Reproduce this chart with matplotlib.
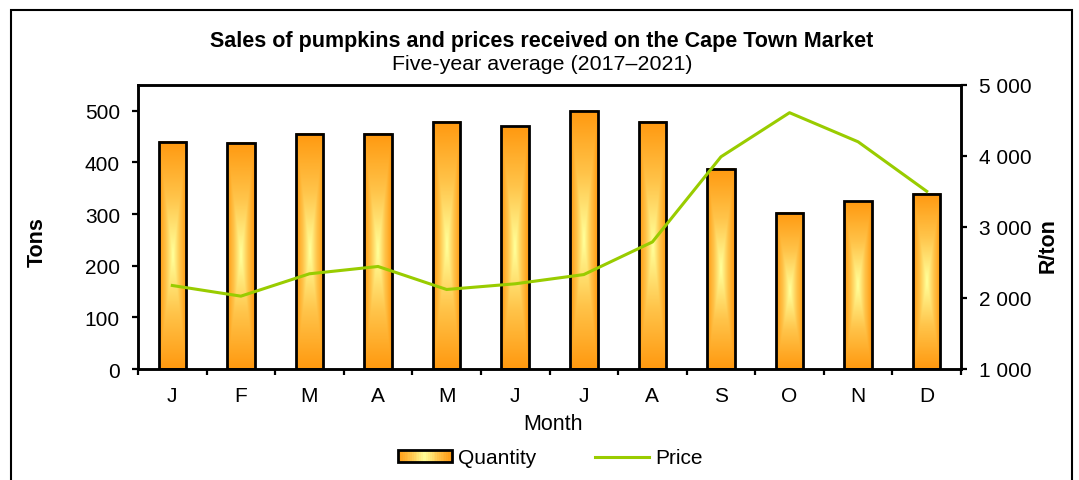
import numpy as np
import matplotlib
matplotlib.use('Agg')
import matplotlib.pyplot as plt
from matplotlib.colors import LinearSegmentedColormap
from matplotlib.patches import Rectangle
from matplotlib.legend_handler import HandlerBase
from matplotlib.lines import Line2D
from matplotlib.ticker import FuncFormatter

# data
months = ['J', 'F', 'M', 'A', 'M', 'J', 'J', 'A', 'S', 'O', 'N', 'D']
quantity = [440, 438, 456, 456, 479, 470, 500, 479, 388, 303, 325, 339]   # tons
price = [2176, 2026, 2341, 2444, 2120, 2200, 2330, 2789, 3989, 4610, 4200, 3503]  # R/ton

plt.rcParams['font.family'] = ['Liberation Sans', 'DejaVu Sans']
plt.rcParams['font.size'] = 15

cmap = LinearSegmentedColormap.from_list('pump', ['#FFFF99', '#FFC44A', '#FF9910'])
green = '#99CC00'

# rectangular "from centre" gradient for the bars
u = np.linspace(-1, 1, 60)
v = np.linspace(-1, 1, 200)
U, V = np.meshgrid(u, v)
T = np.maximum(np.abs(U), np.abs(V))


class GradHandler(HandlerBase):
    def create_artists(self, legend, orig_handle, xdescent, ydescent,
                       width, height, fontsize, trans):
        arts = []
        n = 30
        for i in range(n):
            t = abs((i + 0.5) / n * 2 - 1)
            arts.append(Rectangle((-xdescent + i * width / n, -ydescent), width / n, height,
                                  facecolor=cmap(t), edgecolor='none', transform=trans))
        arts.append(Rectangle((-xdescent, -ydescent), width, height, facecolor='none',
                              edgecolor='black', lw=2, transform=trans))
        return arts


fig = plt.figure(figsize=(10.79, 4.81), dpi=100)
ax = fig.add_axes([138 / 1079, 1 - 370 / 481, 823 / 1079, 284 / 481])

x = np.arange(len(months))
bars = ax.bar(x, quantity, width=0.4, facecolor='none', edgecolor='black',
              linewidth=2, zorder=3)
for b in bars:
    x0, w, h = b.get_x(), b.get_width(), b.get_height()
    ax.imshow(T, cmap=cmap, extent=(x0, x0 + w, 0, h), aspect='auto',
              origin='lower', zorder=2, interpolation='bilinear')

ax.set_xlim(-0.5, len(months) - 0.5)
ax.set_ylim(0, 550)
ax.set_yticks(range(0, 501, 100))
ax.set_xticks(x)
ax.set_xticklabels(months)
ax.set_xticks(np.arange(-0.5, len(months)), minor=True)
ax.tick_params(axis='x', which='major', length=0, pad=12)
ax.tick_params(axis='x', which='minor', length=4, width=1.6, direction='out')
ax.tick_params(axis='y', length=4, width=1.6, pad=9)

ax2 = ax.twinx()
ax2.plot(x, price, color=green, lw=2.2)
ax2.set_ylim(1000, 5000)
ax2.set_yticks(range(1000, 5001, 1000))
ax2.yaxis.set_major_formatter(FuncFormatter(lambda val, pos: f'{int(val):,}'.replace(',', ' ')))
ax2.tick_params(axis='y', length=4, width=1.6, pad=9)

for a in (ax, ax2):
    for s in a.spines.values():
        s.set_linewidth(1.8)

fig.text(542 / 1079, 1 - 42 / 481, 'Sales of pumpkins and prices received on the Cape Town Market',
         ha='center', va='center', fontsize=15.5, fontweight='bold')
fig.text(542 / 1079, 1 - 65 / 481, 'Five-year average (2017\u20132021)',
         ha='center', va='center', fontsize=15.4)
fig.text(37 / 1079, 1 - 242 / 481, 'Tons', rotation=90, ha='center', va='center',
         fontsize=15.5, fontweight='bold')
fig.text(1048 / 1079, 1 - 246 / 481, 'R/ton', rotation=90, ha='center', va='center',
         fontsize=15.5, fontweight='bold')
fig.text(553 / 1079, 1 - 424 / 481, 'Month', ha='center', va='center', fontsize=15.5)

proxy = Rectangle((0, 0), 1, 1)
line_proxy = Line2D([], [], color=green, lw=2.2)
fig.legend([proxy, line_proxy], ['Quantity', 'Price'], handler_map={proxy: GradHandler()},
           loc='center', bbox_to_anchor=(550 / 1079, 1 - 459 / 481), ncol=2, frameon=False,
           handlelength=2.6, handleheight=0.55, handletextpad=0.3, columnspacing=2.8,
           fontsize=15)

# outer frame of the figure box
fig.add_artist(Rectangle((11 / 1079, -0.1), (1072 - 11) / 1079, 1.1 - 11 / 481,
                         transform=fig.transFigure, fill=False, edgecolor='black', lw=1.5))

fig.savefig('out.png', dpi=100)
